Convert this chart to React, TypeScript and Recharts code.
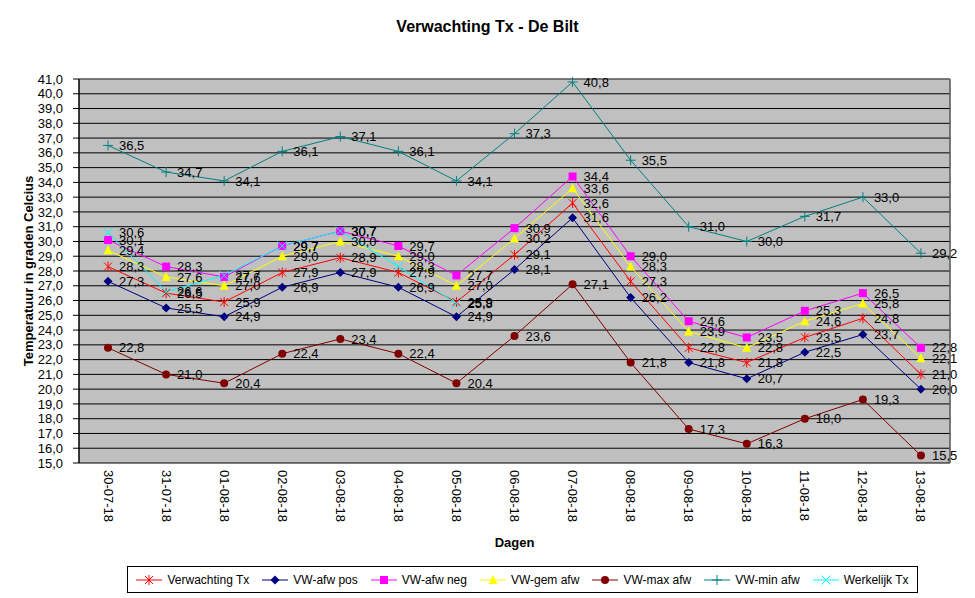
import React from 'react';
import { LineChart, Line, XAxis, YAxis, CartesianGrid, Legend, LabelList } from 'recharts';

const dagen = [
  '30-07-18', '31-07-18', '01-08-18', '02-08-18', '03-08-18', '04-08-18', '05-08-18', '06-08-18',
  '07-08-18', '08-08-18', '09-08-18', '10-08-18', '11-08-18', '12-08-18', '13-08-18',
];
const verwachtingTx = [28.3, 26.5, 25.9, 27.9, 28.9, 27.9, 25.9, 29.1, 32.6, 27.3, 22.8, 21.8, 23.5, 24.8, 21.0];
const afwPos = [27.3, 25.5, 24.9, 26.9, 27.9, 26.9, 24.9, 28.1, 31.6, 26.2, 21.8, 20.7, 22.5, 23.7, 20.0];
const afwNeg = [30.1, 28.3, 27.6, 29.7, 30.7, 29.7, 27.7, 30.9, 34.4, 29.0, 24.6, 23.5, 25.3, 26.5, 22.8];
const gemAfw = [29.4, 27.6, 27.0, 29.0, 30.0, 29.0, 27.0, 30.2, 33.6, 28.3, 23.9, 22.8, 24.6, 25.8, 22.1];
const maxAfw = [22.8, 21.0, 20.4, 22.4, 23.4, 22.4, 20.4, 23.6, 27.1, 21.8, 17.3, 16.3, 18.0, 19.3, 15.5];
const minAfw = [36.5, 34.7, 34.1, 36.1, 37.1, 36.1, 34.1, 37.3, 40.8, 35.5, 31.0, 30.0, 31.7, 33.0, 29.2];
const werkelijkTx = [30.6, 26.6, 27.7, 29.7, 30.7, 28.3, 25.8, null, null, null, null, null, null, null, null];

const yTicks = [15, 16, 17, 18, 19, 20, 21, 22, 23, 24, 25, 26, 27, 28, 29, 30, 31, 32, 33, 34, 35, 36, 37, 38, 39, 40, 41];
const edgeTicks = [0, 1, 2, 3, 4, 5, 6, 7, 8, 9, 10, 11, 12, 13, 14, 15];

const series = [
  { key: 'verwachting', name: 'Verwachting Tx', color: '#FF0000', shape: 'star', values: verwachtingTx },
  { key: 'pos', name: 'VW-afw pos', color: '#000080', shape: 'diamond', values: afwPos },
  { key: 'neg', name: 'VW-afw neg', color: '#FF00FF', shape: 'square', values: afwNeg },
  { key: 'gem', name: 'VW-gem afw', color: '#FFFF00', shape: 'triangle', values: gemAfw },
  { key: 'max', name: 'VW-max afw', color: '#800000', shape: 'circle', values: maxAfw },
  { key: 'min', name: 'VW-min afw', color: '#008080', shape: 'plus', values: minAfw },
  { key: 'werkelijk', name: 'Werkelijk Tx', color: '#00FFFF', shape: 'cross', values: werkelijkTx },
];

const data = dagen.map((dag, i) => {
  const row: any = { dag };
  series.forEach((s) => (row[s.key] = s.values[i]));
  return row;
});

const komma = (v: any) => (v == null ? '' : Number(v).toFixed(1).replace('.', ','));

const Marker = ({ shape, cx, cy, color }: any) => {
  if (cx == null || cy == null) return <g />;
  switch (shape) {
    case 'star':
      return (
        <g stroke={color} strokeWidth={1}>
          <line x1={cx - 4} y1={cy - 4} x2={cx + 4} y2={cy + 4} />
          <line x1={cx - 4} y1={cy + 4} x2={cx + 4} y2={cy - 4} />
          <line x1={cx} y1={cy - 5} x2={cx} y2={cy + 5} />
        </g>
      );
    case 'diamond':
      return <path d={`M${cx},${cy - 4.5}L${cx + 4.5},${cy}L${cx},${cy + 4.5}L${cx - 4.5},${cy}Z`} fill={color} />;
    case 'square':
      return <rect x={cx - 4} y={cy - 4} width={8} height={8} fill={color} />;
    case 'triangle':
      return <path d={`M${cx},${cy - 5}L${cx + 4.5},${cy + 4}L${cx - 4.5},${cy + 4}Z`} fill={color} />;
    case 'circle':
      return <circle cx={cx} cy={cy} r={4} fill={color} />;
    case 'plus':
      return (
        <g stroke={color} strokeWidth={1}>
          <line x1={cx - 5} y1={cy} x2={cx + 5} y2={cy} />
          <line x1={cx} y1={cy - 5} x2={cx} y2={cy + 5} />
        </g>
      );
    default:
      return (
        <g stroke={color} strokeWidth={1}>
          <line x1={cx - 4.5} y1={cy - 4.5} x2={cx + 4.5} y2={cy + 4.5} />
          <line x1={cx - 4.5} y1={cy + 4.5} x2={cx + 4.5} y2={cy - 4.5} />
        </g>
      );
  }
};

const DateTick = ({ x, y, payload }: any) => (
  <g transform={`translate(${x},${y}) rotate(90)`}>
    <text x={0} y={0} textAnchor="start" dominantBaseline="central" fontSize={13} fill="#000">
      {payload.value}
    </text>
  </g>
);

const LegendBox = () => (
  <div
    style={{
      border: '1px solid #000',
      height: 27,
      boxSizing: 'border-box',
      display: 'flex',
      alignItems: 'center',
      justifyContent: 'center',
      gap: 13,
      fontSize: 12,
      color: '#000',
      background: '#fff',
    }}
  >
    {series.map((s) => (
      <div key={s.key} style={{ display: 'flex', alignItems: 'center' }}>
        <svg width={26} height={12}>
          <line x1={0} y1={6} x2={26} y2={6} stroke={s.color} />
          <Marker shape={s.shape} cx={13} cy={6} color={s.color} />
        </svg>
        <span style={{ marginLeft: 5 }}>{s.name}</span>
      </div>
    ))}
  </div>
);

export default function App() {
  return (
    <div style={{ position: 'relative', width: 975, height: 598, fontFamily: '"Liberation Sans", Arial, sans-serif', background: '#fff' }}>
      <style>{'body{margin:0}'}</style>
      <div
        style={{
          position: 'absolute',
          top: 17,
          left: 0,
          width: 975,
          textAlign: 'center',
          fontWeight: 'bold',
          fontSize: 16,
          lineHeight: '20px',
          color: '#000',
        }}
      >
        Verwachting Tx - De Bilt
      </div>
      <LineChart width={975} height={598} data={data} margin={{ top: 79, right: 25, left: 0, bottom: 60 }}>
        <CartesianGrid xAxisId="edge" fill="#C0C0C0" fillOpacity={1} stroke="#000" />
        <CartesianGrid
          xAxisId="edge"
          stroke="#808080"
          horizontalCoordinatesGenerator={({ offset }: any) => [offset.top]}
          verticalCoordinatesGenerator={({ offset }: any) => [offset.left + offset.width]}
        />
        <XAxis
          xAxisId="edge"
          type="number"
          domain={[0, 15]}
          ticks={edgeTicks}
          interval={0}
          tick={false}
          tickSize={5}
          height={0}
          stroke="#000"
          allowDataOverflow
        />
        <XAxis
          xAxisId="cat"
          dataKey="dag"
          scale="band"
          interval={0}
          axisLine={false}
          tickLine={false}
          tickSize={0}
          tickMargin={7}
          height={75}
          tick={<DateTick />}
          label={{
            content: ({ viewBox }: any) => (
              <text
                x={viewBox.x + viewBox.width / 2}
                y={viewBox.y + 79}
                textAnchor="middle"
                dominantBaseline="central"
                fontWeight="bold"
                fontSize={13}
                fill="#000"
              >
                Dagen
              </text>
            ),
          }}
        />
        <YAxis
          domain={[15, 41]}
          ticks={yTicks}
          interval={0}
          width={79}
          stroke="#000"
          tickSize={6}
          tickMargin={10}
          tick={{ fill: '#000', fontSize: 13 }}
          tickFormatter={komma}
          label={{
            content: ({ viewBox }: any) => {
              const x = viewBox.x + 28;
              const y = viewBox.y + viewBox.height / 2;
              return (
                <text
                  x={x}
                  y={y}
                  transform={`rotate(-90 ${x} ${y})`}
                  textAnchor="middle"
                  dominantBaseline="central"
                  fontWeight="bold"
                  fontSize={13}
                  fill="#000"
                >
                  Temperatuur in graden Celcius
                </text>
              );
            },
          }}
        />
        {series.map((s) => (
          <Line
            key={s.key}
            xAxisId="cat"
            dataKey={s.key}
            name={s.name}
            stroke={s.color}
            strokeWidth={1}
            isAnimationActive={false}
            dot={(p: any) => <Marker key={`${s.key}-${p.index}`} shape={s.shape} cx={p.cx} cy={p.cy} color={s.color} />}
            activeDot={false}
          >
            <LabelList dataKey={s.key} position="right" offset={11} formatter={komma} fill="#000" fontSize={13} />
          </Line>
        ))}
        <Legend
          verticalAlign="middle"
          align="center"
          layout="horizontal"
          content={<LegendBox />}
          wrapperStyle={{ left: 127, top: 566, width: 791 }}
        />
      </LineChart>
    </div>
  );
}
